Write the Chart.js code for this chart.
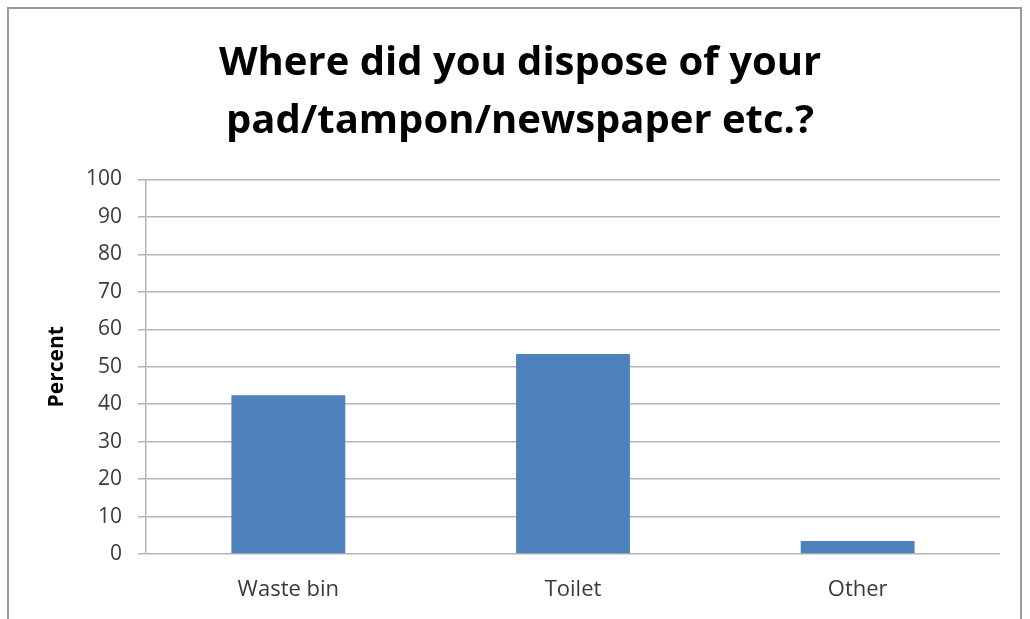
<!DOCTYPE html>
<html>
<head>
<meta charset="utf-8">
<script src="https://cdn.jsdelivr.net/npm/chart.js@4"></script>
<style>
  body { margin: 0; background: #fff; }
  #frame {
    position: absolute; left: 7px; top: 7px; width: 1015px; height: 640px;
    border: 2px solid #9a9a9a; box-sizing: border-box;
  }
  #wrap { position: absolute; left: 40px; top: 0; width: 990px; height: 619px; }
</style>
</head>
<body>
<div id="frame"></div>
<div id="wrap"><canvas id="chart" width="990" height="619"></canvas></div>
<script>
// chart values
const categories = ['Waste bin', 'Toilet', 'Other'];
const percentValues = [42.4, 53.4, 3.5];
const titleLines = ['Where did you dispose of your', 'pad/tampon/newspaper etc.?'];

const ctx = document.getElementById('chart').getContext('2d');

new Chart(ctx, {
    type: 'bar',
    data: {
        labels: categories,
        datasets: [{
            label: 'Percent',
            data: percentValues,
            backgroundColor: '#4f81bd',
            borderWidth: 0,
            categoryPercentage: 1,
            barPercentage: 0.4,
        }],
    },
    options: {
        responsive: false,
        animation: false,
        layout: { padding: { left: 0, right: 30, top: 0, bottom: 0 } },
        plugins: {
            legend: { display: false },
            tooltip: { enabled: false },
            title: {
                display: true,
                text: titleLines,
                color: '#000',
                font: { family: 'Open Sans', size: 40, weight: 'bold', lineHeight: 1.45 },
                padding: { top: 35, bottom: 28.5 },
            },
        },
        scales: {
            x: {
                grid: { display: false, drawTicks: false },
                border: { display: false },
                ticks: { color: '#3a3a3a', font: { family: 'Open Sans', size: 22 }, padding: 23 },
                afterFit: (scale) => { scale.height = 619 - 554; },
            },
            y: {
                min: 0,
                max: 100,
                ticks: { stepSize: 10, color: '#3a3a3a', font: { family: 'Open Sans', size: 21 }, padding: 16 },
                grid: { color: '#b4b4b4', lineWidth: 1.5, tickLength: 8 },
                border: { color: '#b4b4b4', width: 1.5 },
                title: {
                    display: true,
                    text: 'Percent',
                    color: '#000',
                    font: { family: 'Open Sans', size: 21, weight: 'bold' },
                    padding: { top: 4, bottom: 0 },
                },
                afterFit: (scale) => { scale.width = 106; },
            },
        },
    },
});
</script>
</body>
</html>
